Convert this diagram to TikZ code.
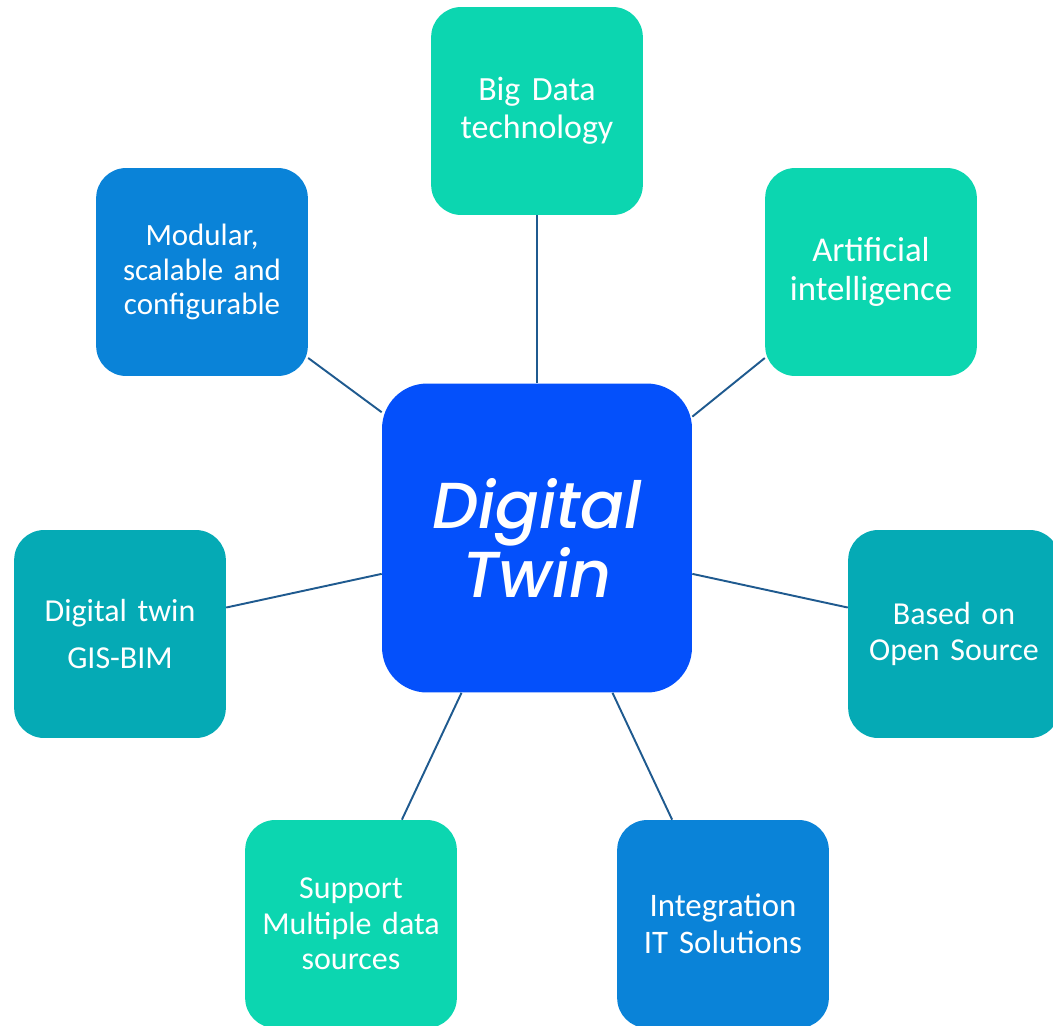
\documentclass[tikz,border=0pt]{standalone}
\usepackage{fontspec}
\setmainfont{Carlito}
\newfontfamily\twinfont{Poppins}[ItalicFont={* Medium Italic}]
\definecolor{twinblue}{HTML}{0450FB}
\definecolor{mint}{HTML}{0CD6B0}
\definecolor{ocean}{HTML}{0A83D8}
\definecolor{petrol}{HTML}{05AAB5}
\definecolor{linkblue}{HTML}{1F5A8F}
\tikzset{
    box/.style={rounded corners=0.6cm, minimum width=4.2cm, minimum height=4.16cm, text width=4cm, align=center, text=white},
    link/.style={draw=linkblue, line width=1.1pt}
}

\begin{document}
\begin{tikzpicture}[x=0.02cm, y=-0.02cm]
    \useasboundingbox (0,0) rectangle (1053,1025);
    \clip (0,0) rectangle (1053,1025);
    % centre
    \node[box, fill=twinblue, minimum width=6.2cm, minimum height=6.18cm, rounded corners=0.9cm, text width=5.9cm, font=\twinfont\itshape\fontsize{37}{37}\selectfont] (twin) at (537,538) {Digital\\Twin};
    % top row
    \node[box, fill=mint, font=\fontsize{19.3}{21.6}\selectfont] (bigdata) at (537,111) {Big Data\\technology};
    \node[box, fill=ocean, font=\fontsize{17.6}{19.6}\selectfont] (modular) at (202,272) {Modular,\\scalable and\\configurable};
    \node[box, fill=mint, font=\fontsize{19.8}{22.2}\selectfont] (ai) at (871,272) {Artificial\\intelligence};
    % middle row
    \node[box, fill=petrol, font=\fontsize{18.2}{27.3}\selectfont] (gisbim) at (120,634) {Digital twin\\GIS-BIM};
    \node[box, fill=petrol, font=\fontsize{18.2}{20}\selectfont] (opensource) at (954,634) {Based on\\Open Source};
    % bottom row
    \node[box, fill=mint, font=\fontsize{18.2}{20.2}\selectfont] (sources) at (351,924) {Support\\Multiple data\\sources};
    \node[box, fill=ocean, font=\fontsize{18.7}{21}\selectfont] (itsol) at (723,924) {Integration\\IT Solutions};
    % links
    \draw[link] (twin.north) -- (bigdata.south);
    \draw[link] (twin.38.5) -- (ai.219);
    \draw[link] (twin.141.5) -- (modular.321);
    \draw[link] (twin.193) -- (gisbim.14);
    \draw[link] (twin.347) -- (opensource.166);
    \draw[link] (twin.244) -- (sources.64);
    \draw[link] (twin.296) -- (itsol.116);
\end{tikzpicture}
\end{document}
